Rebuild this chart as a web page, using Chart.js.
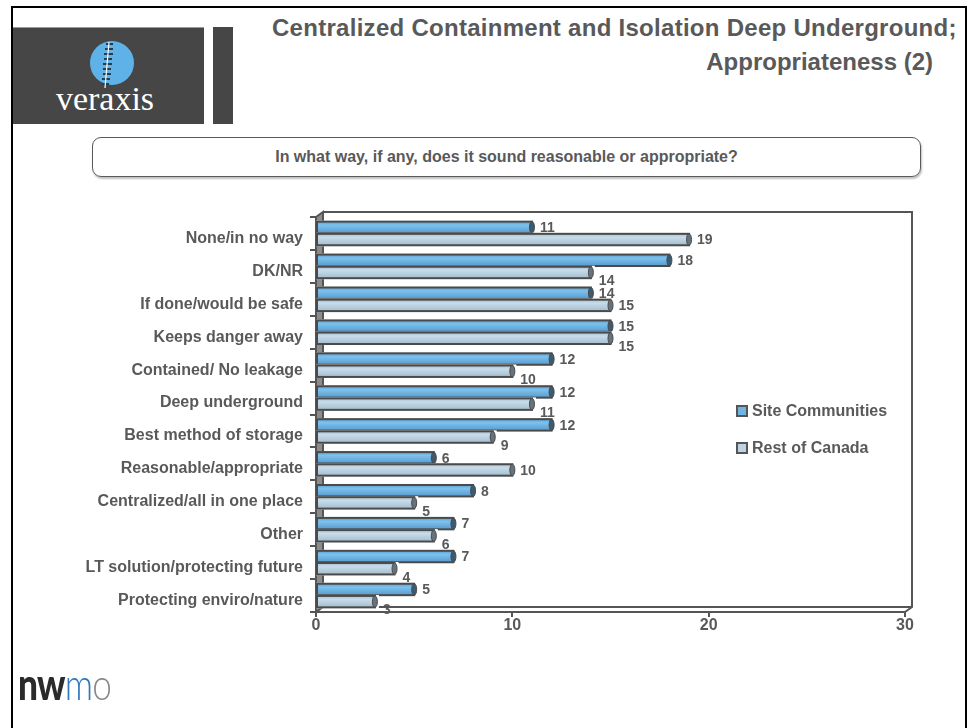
<!DOCTYPE html>
<html>
<head>
<meta charset="utf-8">
<script src="https://cdn.jsdelivr.net/npm/chart.js@4.4.1/dist/chart.umd.min.js"></script>
<style>
  html, body { margin: 0; padding: 0; background: #fff; }
  #stage { position: relative; width: 973px; height: 728px; overflow: hidden; background: #fff;
           font-family: "Liberation Sans", Arial, sans-serif; }
  #frame { position: absolute; left: 11px; top: 6px; width: 956px; height: 760px; border: 2px solid #000; box-sizing: border-box; }
  #chart { position: absolute; left: 0; top: 0; }
  .title { position: absolute; font-weight: bold; font-size: 24px; color: #595959; white-space: nowrap; }
  #q { position: absolute; left: 92px; top: 137px; width: 829px; height: 40px; box-sizing: border-box;
       border: 1.5px solid #595959; border-radius: 9px; box-shadow: 1px 2px 2px rgba(0,0,0,0.25);
       font-weight: bold; font-size: 16px; color: #595959; text-align: center; line-height: 37px; }
  #nwmo { position: absolute; left: 18px; top: 658px; font-family: "Lato", "Open Sans", sans-serif; font-size: 44px; line-height: 50px;
          letter-spacing: -1px; transform: scaleX(0.8); transform-origin: left top; }
</style>
</head>
<body>
<div id="stage">
  <svg style="position:absolute;left:0;top:0" width="260" height="130">
    <rect x="12" y="27" width="192" height="97" fill="#464646"/>
    <line x1="12" y1="27.5" x2="204" y2="27.5" stroke="#9a9a9a" stroke-width="1"/>
    <rect x="213" y="27" width="20" height="97" fill="#464646"/>
    <circle cx="112" cy="63" r="22" fill="#5fb2e8"/>
    <g stroke="#2a3a48" stroke-width="2">
      <line x1="106" y1="44" x2="113" y2="44"/>
      <line x1="105" y1="49" x2="113" y2="49"/>
      <line x1="104" y1="54" x2="113" y2="54"/>
      <line x1="104" y1="59" x2="112" y2="59"/>
      <line x1="103" y1="64" x2="112" y2="64"/>
      <line x1="103" y1="69" x2="111" y2="69"/>
      <line x1="103" y1="74" x2="111" y2="74"/>
      <line x1="102" y1="79" x2="110" y2="79"/>
      <line x1="102" y1="84" x2="109" y2="84"/>
    </g>
    <line x1="109" y1="42" x2="105" y2="88" stroke="#ffffff" stroke-width="1.2"/>
    <text x="105" y="110" text-anchor="middle" font-family="Liberation Serif, DejaVu Serif, serif" font-size="34" fill="#ffffff">veraxis</text>
  </svg>
  <div id="frame"></div>
  <div class="title" style="left:272px; top:14px; letter-spacing:0.28px;">Centralized Containment and Isolation Deep Underground;</div>
  <div class="title" style="right:40px; top:48px;">Appropriateness (2)</div>
  <div id="q">In what way, if any, does it sound reasonable or appropriate?</div>
  <canvas id="chart" width="973" height="728"></canvas>
  <div id="nwmo"><span style="font-weight:900;color:#2b2b2b">nw</span><span style="font-weight:300;color:#2f78bf">m</span><span style="font-weight:300;color:#8a8a8a">o</span></div>
</div>
<script>
const categories = ['None/in no way','DK/NR','If done/would be safe','Keeps danger away','Contained/ No leakage','Deep underground','Best method of storage','Reasonable/appropriate','Centralized/all in one place','Other','LT solution/protecting future','Protecting enviro/nature'];
const seriesNames = ['Site Communities','Rest of Canada'];
const siteCommunities = [11,18,14,15,12,12,12,6,8,7,7,5];
const restOfCanada = [19,14,15,15,10,11,9,10,5,6,4,3];
const xTickValues = [0,10,20,30];

const GRAY = '#595959';
const LINE = '#555555';
const DEPTH = {dx: 7, dy: -5};
const barStyles = [
  {stops: ['#5d9fce','#7dc1ee','#6cb1e1','#5a9bcb'], cap: '#3d5a70', swatch: '#6fb4e2'},
  {stops: ['#a7c0d0','#c8dcea','#b8cfdf','#a3bccc'], cap: '#66737c', swatch: '#bcd4e4'}
];

const frame3d = {
  id: 'frame3d',
  beforeDatasetsDraw(chart) {
    const {ctx, chartArea: a} = chart;
    const {dx, dy} = DEPTH;
    ctx.save();
    ctx.lineWidth = 2;
    ctx.strokeStyle = LINE;
    ctx.fillStyle = '#8c8c8c';
    ctx.beginPath();
    ctx.moveTo(a.left, a.top);
    ctx.lineTo(a.left + dx, a.top + dy);
    ctx.lineTo(a.left + dx, a.bottom + dy);
    ctx.lineTo(a.left, a.bottom);
    ctx.closePath();
    ctx.fill();
    ctx.stroke();
    ctx.beginPath();
    ctx.moveTo(a.left + dx, a.top + dy);
    ctx.lineTo(a.right + dx, a.top + dy);
    ctx.lineTo(a.right + dx, a.bottom + dy);
    ctx.lineTo(a.right, a.bottom);
    ctx.moveTo(a.left + dx, a.bottom + dy);
    ctx.lineTo(a.right + dx, a.bottom + dy);
    ctx.stroke();
    ctx.restore();
  },
  afterDatasetsDraw(chart) {
    const {ctx} = chart;
    const ds0 = chart.data.datasets[0].data, ds1 = chart.data.datasets[1].data;
    ctx.save();
    chart.data.datasets.forEach((ds, di) => {
      const meta = chart.getDatasetMeta(di);
      const st = barStyles[di];
      meta.data.forEach((bar, i) => {
        const p = bar.getProps(['x','y','base','height'], true);
        const t = p.y - p.height / 2, b = p.y + p.height / 2;
        const g = ctx.createLinearGradient(0, t, 0, b);
        g.addColorStop(0, st.stops[0]);
        g.addColorStop(0.3, st.stops[1]);
        g.addColorStop(0.6, st.stops[2]);
        g.addColorStop(1, st.stops[3]);
        ctx.fillStyle = '#ffffff';
        ctx.fillRect(p.base - 1, t - 1, p.x - p.base + 5, p.height + 2);
        ctx.fillStyle = g;
        ctx.fillRect(p.base, t, p.x - p.base, p.height);
        ctx.lineWidth = 2;
        ctx.strokeStyle = '#4a4a4a';
        ctx.strokeRect(p.base, t, p.x - p.base, p.height);
        ctx.beginPath();
        ctx.ellipse(p.x, p.y, 2.5, p.height / 2, 0, 0, Math.PI * 2);
        ctx.fillStyle = st.cap;
        ctx.fill();
        ctx.lineWidth = 1;
        ctx.stroke();
        ctx.font = 'bold 14px "Liberation Sans", Arial, sans-serif';
        ctx.fillStyle = GRAY;
        ctx.textAlign = 'left';
        ctx.textBaseline = 'middle';
        const dy = di === 0 ? 1 : (ds1[i] > ds0[i] ? 1 : 9);
        ctx.fillText(String(ds.data[i]), p.x + 8, p.y + dy);
      });
    });
    ctx.restore();
  },
  afterDraw(chart) {
    const {ctx} = chart;
    ctx.save();
    const lx = 737, ly = [411, 448];
    chart.data.datasets.forEach((ds, di) => {
      ctx.fillStyle = barStyles[di].swatch;
      ctx.fillRect(lx, ly[di] - 5, 10, 10);
      ctx.lineWidth = 2;
      ctx.strokeStyle = LINE;
      ctx.strokeRect(lx, ly[di] - 5, 10, 10);
      ctx.font = 'bold 16px "Liberation Sans", Arial, sans-serif';
      ctx.fillStyle = GRAY;
      ctx.textAlign = 'left';
      ctx.textBaseline = 'middle';
      ctx.fillText(ds.label, lx + 15, ly[di] + 1);
    });
    ctx.restore();
  }
};

new Chart(document.getElementById('chart'), {
  type: 'bar',
  data: {
    labels: categories,
    datasets: [
      {label: seriesNames[0], data: siteCommunities, backgroundColor: barStyles[0].swatch, borderWidth: 0},
      {label: seriesNames[1], data: restOfCanada, backgroundColor: barStyles[1].swatch, borderWidth: 0}
    ]
  },
  plugins: [frame3d],
  options: {
    indexAxis: 'y',
    responsive: false,
    animation: false,
    devicePixelRatio: 1,
    categoryPercentage: 0.74,
    barPercentage: 0.94,
    layout: {padding: {left: 0, top: 217, right: 68, bottom: 70}},
    plugins: {legend: {display: false}, tooltip: {enabled: false}},
    scales: {
      x: {
        min: 0, max: 30,
        afterBuildTicks(scale) { scale.ticks = xTickValues.map(v => ({value: v})); },
        afterFit(scale) { scale.height = 728 - 612 - 70; },
        grid: {drawOnChartArea: false, drawTicks: true, tickLength: 5, color: LINE, lineWidth: 2},
        border: {display: true, color: LINE, width: 2},
        ticks: {font: {family: '"Liberation Sans", Arial, sans-serif', size: 16, weight: 'bold'}, color: GRAY, padding: -1}
      },
      y: {
        afterFit(scale) { scale.width = 316; },
        grid: {drawOnChartArea: false, drawTicks: true, tickLength: 6, color: LINE, lineWidth: 2, offset: true},
        border: {display: true, color: LINE, width: 2},
        ticks: {font: {family: '"Liberation Sans", Arial, sans-serif', size: 16, weight: 'bold'}, color: GRAY, padding: 7, labelOffset: 5}
      }
    }
  }
});
</script>
</body>
</html>
